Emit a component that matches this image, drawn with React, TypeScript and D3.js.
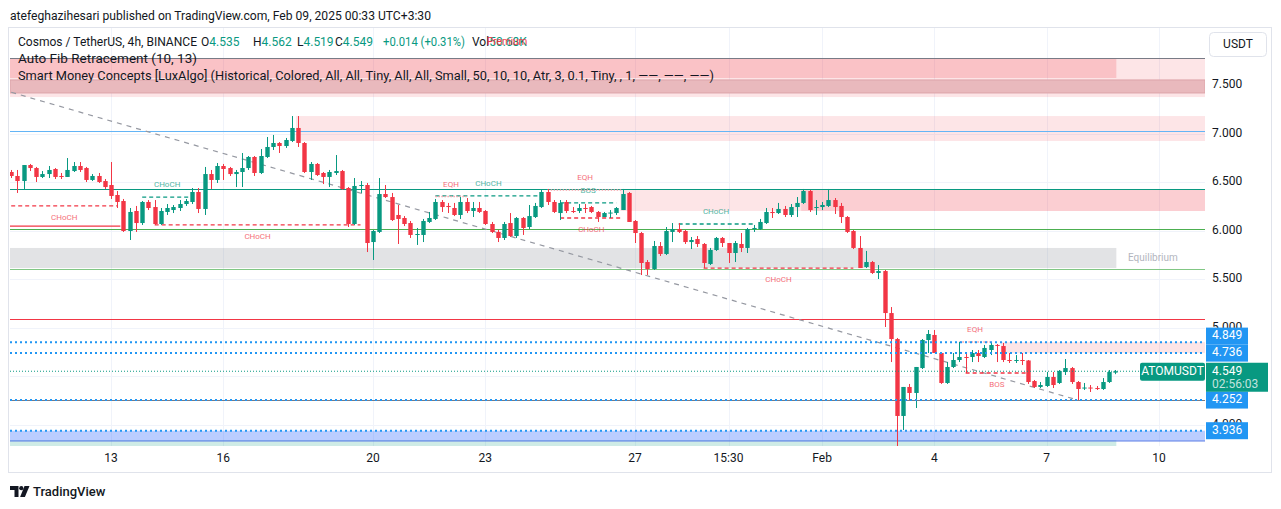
import React from 'react'
import * as d3 from 'd3'

// ATOM/USDT 4h candles [open, high, low, close], first candle 2025-01-10 08:00 UTC
const candles: number[][] = [
  [6.603, 6.624, 6.541, 6.562], [6.562, 6.624, 6.387, 6.51], [6.51, 6.675, 6.428, 6.675], [6.675, 6.686, 6.613, 6.644],
  [6.644, 6.655, 6.5, 6.552], [6.552, 6.613, 6.541, 6.582], [6.582, 6.665, 6.541, 6.624], [6.634, 6.644, 6.531, 6.552],
  [6.562, 6.593, 6.531, 6.552], [6.552, 6.747, 6.552, 6.624], [6.613, 6.706, 6.603, 6.665], [6.665, 6.706, 6.603, 6.624],
  [6.644, 6.655, 6.5, 6.521], [6.521, 6.582, 6.51, 6.562], [6.562, 6.593, 6.49, 6.5], [6.51, 6.531, 6.428, 6.448],
  [6.469, 6.706, 6.325, 6.356], [6.366, 6.407, 6.232, 6.294], [6.304, 6.325, 5.985, 5.995], [5.995, 6.232, 5.902, 6.191],
  [6.201, 6.253, 5.985, 6.077], [6.077, 6.304, 6.057, 6.294], [6.294, 6.314, 6.211, 6.232], [6.242, 6.314, 6.057, 6.067],
  [6.067, 6.232, 6.057, 6.201], [6.191, 6.273, 6.16, 6.232], [6.211, 6.263, 6.18, 6.242], [6.232, 6.314, 6.201, 6.273],
  [6.273, 6.325, 6.253, 6.304], [6.294, 6.438, 6.273, 6.397], [6.397, 6.438, 6.18, 6.222], [6.222, 6.655, 6.16, 6.582],
  [6.582, 6.624, 6.428, 6.521], [6.521, 6.696, 6.49, 6.665], [6.665, 6.686, 6.521, 6.634], [6.644, 6.655, 6.562, 6.582],
  [6.582, 6.624, 6.448, 6.603], [6.603, 6.799, 6.448, 6.644], [6.644, 6.768, 6.624, 6.758], [6.758, 6.768, 6.562, 6.593],
  [6.593, 6.84, 6.582, 6.768], [6.758, 6.964, 6.747, 6.861], [6.861, 6.985, 6.83, 6.902], [6.902, 6.912, 6.799, 6.871],
  [6.871, 6.954, 6.851, 6.933], [6.923, 7.18, 6.912, 7.057], [7.057, 7.18, 6.861, 6.902], [6.902, 6.912, 6.593, 6.603],
  [6.603, 6.706, 6.521, 6.686], [6.686, 6.696, 6.562, 6.572], [6.593, 6.603, 6.479, 6.552], [6.552, 6.624, 6.448, 6.603],
  [6.593, 6.778, 6.572, 6.613], [6.613, 6.624, 6.418, 6.428], [6.438, 6.448, 6.036, 6.067], [6.067, 6.541, 6.057, 6.459],
  [6.459, 6.51, 6.387, 6.469], [6.469, 6.49, 5.778, 5.871], [5.881, 6.005, 5.696, 5.995], [5.985, 6.541, 5.974, 6.376],
  [6.376, 6.469, 6.335, 6.345], [6.345, 6.387, 6.098, 6.108], [6.16, 6.263, 5.861, 6.119], [6.129, 6.149, 6.046, 6.067],
  [6.077, 6.098, 5.923, 5.954], [5.954, 6.026, 5.851, 5.964], [5.954, 6.119, 5.881, 6.098], [6.088, 6.191, 6.077, 6.129],
  [6.119, 6.325, 6.108, 6.294], [6.294, 6.314, 6.191, 6.242], [6.253, 6.284, 6.18, 6.242], [6.232, 6.284, 6.149, 6.16],
  [6.16, 6.345, 6.119, 6.294], [6.294, 6.335, 6.18, 6.201], [6.201, 6.294, 6.139, 6.232], [6.232, 6.294, 6.18, 6.191],
  [6.201, 6.211, 6.057, 6.067], [6.067, 6.088, 5.974, 5.985], [5.985, 6.005, 5.881, 5.923], [5.923, 6.088, 5.902, 6.067],
  [6.077, 6.18, 5.933, 5.943], [5.943, 6.139, 5.923, 6.129], [6.129, 6.139, 5.954, 6.026], [6.036, 6.263, 6.015, 6.149],
  [6.139, 6.284, 6.129, 6.253], [6.242, 6.418, 6.232, 6.397], [6.397, 6.428, 6.263, 6.294], [6.294, 6.314, 6.18, 6.191],
  [6.18, 6.314, 6.108, 6.284], [6.294, 6.314, 6.18, 6.201], [6.201, 6.242, 6.18, 6.196], [6.201, 6.273, 6.18, 6.232],
  [6.232, 6.273, 6.18, 6.222], [6.242, 6.253, 6.18, 6.191], [6.191, 6.201, 6.088, 6.139], [6.139, 6.191, 6.139, 6.18],
  [6.18, 6.211, 6.129, 6.185], [6.18, 6.242, 6.16, 6.232], [6.211, 6.428, 6.211, 6.376], [6.387, 6.397, 6.088, 6.088],
  [6.098, 6.108, 5.871, 5.974], [5.974, 5.985, 5.541, 5.665], [5.675, 5.696, 5.541, 5.603], [5.603, 5.892, 5.593, 5.84],
  [5.84, 5.881, 5.737, 5.758], [5.758, 6.036, 5.747, 5.995], [5.985, 6.077, 5.881, 6.015], [6.015, 6.077, 5.974, 5.985],
  [5.995, 6.005, 5.861, 5.881], [5.881, 5.933, 5.809, 5.902], [5.912, 5.943, 5.83, 5.861], [5.861, 5.871, 5.613, 5.665],
  [5.655, 5.82, 5.644, 5.799], [5.799, 5.933, 5.789, 5.923], [5.923, 5.933, 5.83, 5.871], [5.871, 5.871, 5.665, 5.768],
  [5.768, 5.892, 5.675, 5.871], [5.861, 5.974, 5.778, 5.82], [5.82, 6.026, 5.768, 6.015], [6.015, 6.057, 5.985, 6.026],
  [6.015, 6.119, 6.005, 6.088], [6.077, 6.232, 6.067, 6.191], [6.191, 6.232, 6.129, 6.18], [6.18, 6.284, 6.17, 6.222],
  [6.222, 6.253, 6.139, 6.16], [6.16, 6.273, 6.139, 6.242], [6.242, 6.345, 6.139, 6.284], [6.284, 6.428, 6.273, 6.407],
  [6.407, 6.418, 6.191, 6.211], [6.232, 6.314, 6.16, 6.242], [6.242, 6.294, 6.211, 6.263], [6.253, 6.428, 6.242, 6.314],
  [6.314, 6.335, 6.17, 6.242], [6.253, 6.284, 6.077, 6.139], [6.139, 6.149, 5.974, 5.985], [5.995, 6.005, 5.809, 5.82],
  [5.82, 5.943, 5.613, 5.613], [5.624, 5.789, 5.613, 5.675], [5.675, 5.686, 5.552, 5.562], [5.562, 5.644, 5.5, 5.582],
  [5.582, 5.593, 5.005, 5.149], [5.149, 5.211, 4.644, 4.881], [4.881, 4.892, 3.768, 4.088], [4.088, 4.387, 3.943, 4.387],
  [4.387, 4.418, 4.253, 4.325], [4.325, 4.593, 4.17, 4.593], [4.582, 4.881, 4.572, 4.871], [4.871, 4.974, 4.737, 4.933],
  [4.923, 4.974, 4.737, 4.737], [4.737, 4.747, 4.418, 4.428], [4.428, 4.644, 4.418, 4.593], [4.593, 4.737, 4.582, 4.665],
  [4.665, 4.851, 4.644, 4.696], [4.696, 4.747, 4.531, 4.69], [4.696, 4.768, 4.644, 4.737], [4.737, 4.768, 4.644, 4.706],
  [4.696, 4.82, 4.685, 4.789], [4.768, 4.84, 4.716, 4.82], [4.82, 4.83, 4.644, 4.815], [4.809, 4.84, 4.644, 4.665],
  [4.665, 4.737, 4.634, 4.66], [4.66, 4.716, 4.634, 4.665], [4.665, 4.737, 4.613, 4.66], [4.66, 4.665, 4.418, 4.438],
  [4.448, 4.459, 4.376, 4.387], [4.387, 4.438, 4.376, 4.407], [4.397, 4.541, 4.387, 4.49], [4.49, 4.541, 4.376, 4.407],
  [4.428, 4.562, 4.418, 4.552], [4.541, 4.675, 4.51, 4.582], [4.582, 4.593, 4.418, 4.438], [4.438, 4.448, 4.252, 4.366],
  [4.376, 4.428, 4.356, 4.381], [4.381, 4.407, 4.335, 4.371], [4.376, 4.397, 4.356, 4.366], [4.366, 4.479, 4.356, 4.438],
  [4.438, 4.562, 4.428, 4.541], [4.535, 4.562, 4.519, 4.549],
]
const firstCandleUtc = '2025-01-10T08:00:00Z'

const timeTicks: [string, string][] = [
  ['2025-01-13T00:00:00Z', '13'], ['2025-01-16T00:00:00Z', '16'], ['2025-01-20T00:00:00Z', '20'],
  ['2025-01-23T00:00:00Z', '23'], ['2025-01-27T00:00:00Z', '27'], ['2025-01-29T12:00:00Z', '15:30'],
  ['2025-02-01T00:00:00Z', 'Feb'], ['2025-02-04T00:00:00Z', '4'], ['2025-02-07T00:00:00Z', '7'],
  ['2025-02-10T00:00:00Z', '10'],
]
const priceTicks = [7.5, 7, 6.5, 6, 5.5, 5, 4.5, 4]
const hiddenTicks = [4.5] // sits under the last price label

// auto fib
const fibLow = 4.252
const fibHigh = 7.778
const fibLevels = [0, 0.236, 0.382, 0.5, 0.618, 0.786, 1]

// order blocks: start candle, top, bottom
const orderBlocks = [
  { from: 0, top: 7.778, bottom: 7.376 },
  { from: 46, top: 7.18, bottom: 6.923 },
  { from: 98, top: 6.428, bottom: 6.201 },
  { from: 127, top: 6.428, bottom: 6.201 },
  { from: 159, top: 4.849, bottom: 4.736 },
]
const innerBlock = { from: 0, top: 7.552, bottom: 7.418 }
const premiumZone = { top: 7.778, bottom: 7.572 }
const equilibriumZone = { top: 5.82, bottom: 5.613 }
const discountZone = { top: 3.84, bottom: 3.768 }
const blueZone = { top: 3.936, bottom: 3.83 }

// structure breaks
const structures = [
  { from: 0, to: 17, price: 6.253, bull: false, label: 'CHoCH' },
  { from: 21, to: 29, price: 6.345, bull: true, label: 'CHoCH' },
  { from: 23, to: 56, price: 6.057, bull: false, label: 'CHoCH' },
  { from: 68, to: 85, price: 6.356, bull: true, label: 'CHoCH' },
  { from: 88, to: 97, price: 6.284, bull: true, label: 'BOS' },
  { from: 88, to: 98, price: 6.129, bull: false, label: 'CHoCH' },
  { from: 107, to: 119, price: 6.067, bull: true, label: 'CHoCH' },
  { from: 111, to: 135, price: 5.613, bull: false, label: 'CHoCH' },
  { from: 153, to: 163, price: 4.531, bull: false, label: 'BOS' },
]
const equalHighs = [
  { from: 68, to: 73, price: 6.35 },
  { from: 86, to: 98, price: 6.418 },
  { from: 152, to: 157, price: 4.851 },
]
const strongLow = { from: 0, to: 17.5, price: 6.046 }
const trendLine = { from: 0, fromPrice: 7.425, to: 171, toPrice: 4.252 }

const horizontalLines = [4.849, 4.736, 4.252, 3.936]
const lastPrice = 4.549
const countdown = '02:56:03'

const FONT = 'Roboto, sans-serif'
const GREEN = '#089981'
const RED = '#f23645'
const BLUE = '#2196f3'
const TEXT = '#131722'
const FIB_COLORS = ['#787b86', '#f23645', '#81c784', '#4caf50', '#089981', '#64b5f6', '#787b86']

export default function App() {
  const t0 = new Date(firstCandleUtc).getTime()
  const stepMs = 4 * 3600 * 1000
  const n = candles.length
  const x = d3
    .scaleTime()
    .domain([new Date(t0), new Date(t0 + (n - 1) * stepMs)])
    .range([11.2, 11.2 + (n - 1) * 6.238])
  const xi = (i: number) => x(new Date(t0 + i * stepMs))
  const y = d3.scaleLinear().domain([7.5, 4]).range([85, 424.5])

  const left = 10
  const right = 1205
  const top = 28
  const bottom = 446
  const bw = 4.4
  const zoneEnd = xi(n - 1) + 1
  const fibPrice = (l: number) => fibLow + l * (fibHigh - fibLow)
  const fmt = d3.format('.3f')

  const rectY = (z: { top: number; bottom: number }) => ({ y: y(z.top), height: y(z.bottom) - y(z.top) })

  // price labels on the axis, pushed apart when they collide
  const axisLabels = horizontalLines
    .map((p) => ({ p, cy: y(p) }))
    .sort((a, b) => b.cy - a.cy)
  for (let k = 1; k < axisLabels.length; k++) {
    if (axisLabels[k - 1].cy - axisLabels[k].cy < 17) axisLabels[k].cy = axisLabels[k - 1].cy - 17
  }

  const trend = d3.line<[number, number]>()([
    [xi(trendLine.from), y(trendLine.fromPrice)],
    [xi(trendLine.to), y(trendLine.toPrice)],
  ])

  return (
    <div style={{ position: 'absolute', left: 0, top: 0, background: '#fff' }}>
      <svg width={1281} height={509} style={{ display: 'block', fontFamily: FONT }}>
        <rect width={1281} height={509} fill="#fff" />
        <text x={10} y={19.5} fontSize={12.5} fill={TEXT} textLength={421} lengthAdjust="spacingAndGlyphs">
          atefeghazihesari published on TradingView.com, Feb 09, 2025 00:33 UTC+3:30
        </text>
        <rect x={8.5} y={27.5} width={1263} height={445} fill="none" stroke="#e0e3eb" />

        <defs>
          <clipPath id="plot">
            <rect x={left} y={top} width={right - left} height={bottom - top} />
          </clipPath>
        </defs>

        {/* grid */}
        {priceTicks.map((p) => (
          <line key={p} x1={left} x2={right} y1={Math.round(y(p)) + 0.5} y2={Math.round(y(p)) + 0.5} stroke="#f0f3fa" />
        ))}
        {timeTicks.map(([d]) => {
          const gx = Math.round(x(new Date(d))) + 0.5
          return <line key={d} x1={gx} x2={gx} y1={top} y2={bottom} stroke="#f0f3fa" />
        })}

        <g clipPath="url(#plot)">
          {/* zones */}
          {orderBlocks.map((b, k) => (
            <rect key={k} x={xi(b.from) - 2.2} width={right - xi(b.from) + 2.2} {...rectY(b)} fill="rgba(242,54,69,0.13)" />
          ))}
          <rect x={left} width={right - left} {...rectY(innerBlock)} fill="#e9b9bd" stroke="#dca4a9" strokeWidth={1} />
          <rect x={left} width={zoneEnd - left} {...rectY(premiumZone)} fill="rgba(242,54,69,0.2)" />
          <rect x={left} width={zoneEnd - left} {...rectY(equilibriumZone)} fill="rgba(135,139,148,0.24)" />
          <rect x={left} width={zoneEnd - left} y={y(discountZone.top)} height={bottom - y(discountZone.top)} fill="rgba(8,153,129,0.2)" />
          <rect x={left} width={right - left} {...rectY(blueZone)} fill="rgba(41,98,255,0.32)" />
          <line x1={left} x2={right} y1={y(blueZone.bottom)} y2={y(blueZone.bottom)} stroke="#5c7fe6" strokeWidth={1.2} />

          {/* fib levels */}
          {fibLevels.map((l, k) => {
            const fy = Math.round(y(fibPrice(l))) + 0.5
            return <line key={l} x1={left} x2={right} y1={fy} y2={fy} stroke={FIB_COLORS[k]} strokeWidth={1.2} />
          })}

          {/* trend line */}
          <path d={trend || ''} stroke="#9598a1" strokeWidth={1.2} strokeDasharray="5 5" fill="none" />

          {/* strong low */}
          <line x1={left} x2={xi(strongLow.to)} y1={y(strongLow.price)} y2={y(strongLow.price)} stroke={RED} strokeWidth={1.3} />

          {/* structure */}
          {structures.map((s, k) => {
            const sy = y(s.price)
            const c = s.bull ? GREEN : RED
            const mx = (xi(s.from) + xi(s.to)) / 2
            return (
              <g key={k}>
                <line x1={xi(s.from)} x2={xi(s.to)} y1={sy} y2={sy} stroke={c} strokeWidth={1.3} strokeDasharray="4 3" />
                <text x={mx} y={s.bull ? sy - 12 : sy + 12} fontSize={8} fill={c} opacity={0.72} textAnchor="middle" dominantBaseline="middle">
                  {s.label}
                </text>
              </g>
            )
          })}
          {equalHighs.map((e, k) => {
            const ey = y(e.price)
            const mx = (xi(e.from) + xi(e.to)) / 2
            return (
              <g key={k}>
                <line x1={xi(e.from)} x2={xi(e.to)} y1={ey} y2={ey} stroke="#f7a1a8" strokeWidth={1.5} strokeDasharray="1.5 1.5" />
                <text x={mx} y={ey - 12} fontSize={8} fill={RED} opacity={0.72} textAnchor="middle" dominantBaseline="middle">
                  EQH
                </text>
              </g>
            )
          })}

          {/* candles */}
          {candles.map(([o, h, l, c], i) => {
            const cx = Math.round(xi(i)) + 0.5
            const col = c >= o ? GREEN : RED
            const y1 = y(Math.max(o, c))
            const y2 = y(Math.min(o, c))
            return (
              <g key={i}>
                <line x1={cx} x2={cx} y1={y(h)} y2={y(l)} stroke={col} strokeWidth={1} />
                <rect x={cx - bw / 2} y={y1} width={bw} height={Math.max(1, y2 - y1)} fill={col} />
              </g>
            )
          })}

          {/* horizontal lines */}
          {horizontalLines.map((p) => (
            <line key={p} x1={left} x2={right} y1={y(p)} y2={y(p)} stroke={BLUE} strokeWidth={2} strokeDasharray="2 3" />
          ))}
          <line x1={left} x2={1140} y1={y(lastPrice)} y2={y(lastPrice)} stroke={GREEN} strokeWidth={1} strokeDasharray="1 2" />
        </g>

        <text x={1128} y={y((equilibriumZone.top + equilibriumZone.bottom) / 2)} fontSize={10} fill="#b2b5be" dominantBaseline="middle">
          Equilibrium
        </text>

        {/* legend */}
        <g fontSize={12} fill={TEXT}>
          <text x={18} y={46} textLength={179} lengthAdjust="spacingAndGlyphs">Cosmos / TetherUS, 4h, BINANCE</text>
          <text x={201} y={46}>
            O<tspan fill={GREEN}>4.535</tspan>
          </text>
          <text x={253} y={46}>
            H<tspan fill={GREEN}>4.562</tspan>
          </text>
          <text x={297} y={46}>
            L<tspan fill={GREEN}>4.519</tspan>
          </text>
          <text x={335} y={46}>
            C<tspan fill={GREEN}>4.549</tspan>
          </text>
          <text x={383} y={46} fill={GREEN} textLength={82} lengthAdjust="spacingAndGlyphs">+0.014 (+0.31%)</text>
          <text x={472} y={46}>
            Vol<tspan fill={GREEN}>50.68K</tspan>
          </text>
          <text x={487} y={45} fontSize={10} fill={RED}>Premium</text>
          <text x={18} y={63} textLength={179} lengthAdjust="spacingAndGlyphs">Auto Fib Retracement (10, 13)</text>
          <text x={18} y={80} textLength={696} lengthAdjust="spacingAndGlyphs">
            Smart Money Concepts [LuxAlgo] (Historical, Colored, All, All, Tiny, All, All, Small, 50, 10, 10, Atr, 3, 0.1, Tiny, , 1, ——, ——, ——)
          </text>
        </g>

        {/* price axis */}
        <rect x={1209.5} y={32.5} width={57} height={24} rx={4} fill="#fff" stroke="#e0e3eb" />
        <text x={1238} y={45} fontSize={12} fill={TEXT} textAnchor="middle" dominantBaseline="middle">USDT</text>
        {priceTicks
          .filter((p) => !hiddenTicks.includes(p))
          .map((p) => (
            <text key={p} x={1212} y={y(p)} fontSize={12} fill={TEXT} dominantBaseline="middle">
              {fmt(p)}
            </text>
          ))}
        {axisLabels.map(({ p, cy }) => (
          <g key={p}>
            <rect x={1206} y={cy - 8.5} width={42} height={17} fill={BLUE} />
            <text x={1212} y={cy} fontSize={12} fill="#fff" dominantBaseline="middle">
              {fmt(p)}
            </text>
          </g>
        ))}
        <rect x={1140} y={y(lastPrice) - 8.5} width={65} height={18} rx={2} fill={GREEN} />
        <text x={1172.5} y={y(lastPrice) + 0.5} fontSize={12} fill="#fff" textAnchor="middle" dominantBaseline="middle">
          ATOMUSDT
        </text>
        <rect x={1206} y={y(lastPrice) - 8.5} width={62} height={29} fill={GREEN} />
        <text x={1212} y={y(lastPrice) + 0.5} fontSize={12} fill="#fff" dominantBaseline="middle">
          {fmt(lastPrice)}
        </text>
        <text x={1212} y={y(lastPrice) + 14} fontSize={12} fill="rgba(255,255,255,0.75)" dominantBaseline="middle">
          {countdown}
        </text>

        {/* time axis */}
        {timeTicks.map(([d, label]) => (
          <text key={d} x={x(new Date(d))} y={459} fontSize={12} fill={TEXT} textAnchor="middle" dominantBaseline="middle">
            {label}
          </text>
        ))}

        {/* TradingView logo */}
        <g fill={TEXT}>
          <path d="M10 486 h8.5 v11 h-4 v-7 h-4.5 z" />
          <circle cx={21.3} cy={488.2} r={2.1} />
          <path d="M24.5 486 h5 l-4.6 11 h-4.8 z" />
          <text x={33} y={495.5} fontSize={13} fontWeight={500}>TradingView</text>
        </g>
      </svg>
    </div>
  )
}
